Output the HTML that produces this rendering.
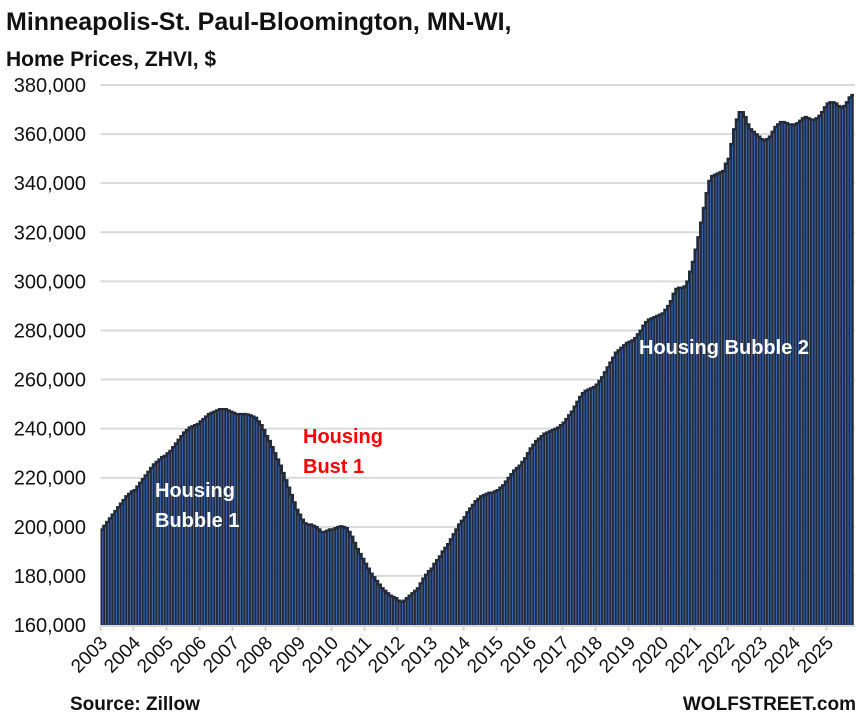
<!DOCTYPE html>
<html><head><meta charset="utf-8"><style>
body{margin:0;background:#fff;}
svg text{font-family:"Liberation Sans",Arial,sans-serif;}
</style></head><body>
<svg id="chart" width="863" height="716" xmlns="http://www.w3.org/2000/svg">
<text x="6" y="30" font-size="25" font-weight="bold" fill="#111">Minneapolis-St. Paul-Bloomington, MN-WI,</text>
<text x="6" y="66" font-size="21" font-weight="bold" fill="#111">Home Prices, ZHVI, $</text>
<g id="grid"></g>
<g id="ylabels"></g>
<g id="bars"></g>
<g id="xlabels"></g>
<g>
<text x="155" y="497" font-size="20" font-weight="bold" fill="#fff">Housing</text>
<text x="155" y="527" font-size="20" font-weight="bold" fill="#fff">Bubble 1</text>
<text x="303" y="443" font-size="20" font-weight="bold" fill="#ff0000">Housing</text>
<text x="303" y="473" font-size="20" font-weight="bold" fill="#ff0000">Bust 1</text>
<text x="639" y="354" font-size="20" font-weight="bold" fill="#fff">Housing Bubble 2</text>
</g>
<text x="70" y="710" font-size="19" font-weight="bold" fill="#111">Source: Zillow</text>
<text x="856" y="710" font-size="19" font-weight="bold" fill="#111" text-anchor="end">WOLFSTREET.com</text>
</svg>
<script>
const startYear = 2003;
const values = [
199,200.5,202,203.5,205,206.5,208,209.5,211,212.5,213.5,214.5,
215,216.5,218,219.5,221,222.5,224,225.5,226.5,227.5,228.5,229,
230,231,232.5,234,235.5,237,238.5,239.5,240.5,241,241.5,242,
243,244,245,246,246.5,247,247.5,248,248,248,247.5,247,
246.5,246,246,246,246,245.8,245.5,245,244.5,243,241.5,239.5,
237,235,232.5,230,227.5,225,222,219,216,213,210,207,
205,203,201.5,201,201,200.5,200,199,198,198,198.5,199,
199,199.5,200,200.3,200,199.5,198,196,193.5,191,189,187,
185,183,181,179.5,178,176.5,175,174,173,172,171.5,171,
170,169.5,170,171,172,173,174,175,177,179,180.5,182,
183,185,186.5,188,190,191.5,193,195,197,199,201,202.5,
204,206,207.5,209,210.5,211.5,212.5,213,213.5,214,214,214.5,
215,216,217,218.5,220,221.5,223,224,225,226.5,228,230,
232,233.5,235,236,237,238,238.5,239,239.5,240,240.5,241.5,
242.5,244,245.5,247,249,251,253,254.5,255.5,256,256.5,257,
258,259.5,261,263,265,267,269,271,272,273,274,275,
275.5,276,277,278.5,280,282,283.5,284.5,285,285.5,286,286.5,
287,288.5,290,292,295,297,297.5,297.5,298,300,304,308,
313,318,324,330,336,341,343,343.5,344,344.5,345,348,
350,356,362,366,369,369,367,364,362,361,360,359,
358,357.5,358,359,361,363,364,365,365,364.5,364,364,
364,364.5,365.5,366.5,367,366.5,366,366,366.5,367.5,369,371,
372.5,373,373,372.5,371.5,371,371.5,373,375,376
];
const yTicks = [160,180,200,220,240,260,280,300,320,340,360,380];
const xYears = [2003,2004,2005,2006,2007,2008,2009,2010,2011,2012,2013,2014,2015,2016,2017,2018,2019,2020,2021,2022,2023,2024,2025];

const NS="http://www.w3.org/2000/svg";
const x0=100.5, mw=2.75, yTop=85, yBot=625, vMin=160, vMax=380;
function yS(v){return yBot-(v-vMin)/(vMax-vMin)*(yBot-yTop);}
function xS(m){return x0+m*mw;}
function mk(t,a,p){const e=document.createElementNS(NS,t);for(const k in a)e.setAttribute(k,a[k]);p.appendChild(e);return e;}

const grid=document.getElementById('grid'), yl=document.getElementById('ylabels');
yTicks.forEach(v=>{
  const l=mk('line',{x1:x0,x2:855,y1:yS(v),y2:yS(v),stroke:'#d9d9d9','stroke-width':2},grid);
  
  
  const t=mk('text',{x:86,y:yS(v)+7,'font-size':20,'text-anchor':'end',fill:'#111'},yl);
  
  
  t.textContent=v.toLocaleString('en-US')+',000';
});
const barsG=document.getElementById('bars');
values.forEach((v,i)=>{
  const r=mk('rect',{x:xS(i),y:yS(v),width:mw,height:yBot-yS(v),fill:'#232b3b'},barsG);
  
  
  const s=mk('rect',{x:xS(i)+mw-0.9,y:yS(v)+1.5,width:0.9,height:yBot-yS(v)-1.5,fill:'#3d6bc0'},barsG);
  
  
});
const topLine=mk('polyline',{points:values.map((v,i)=>xS(i)+','+yS(v)+' '+(xS(i)+mw)+','+yS(v)).join(' '),fill:'none',stroke:'#232b3b','stroke-width':2},barsG);


const ax=mk('line',{x1:x0,x2:855,y1:yBot+1,y2:yBot+1,stroke:'#d9d9d9','stroke-width':2},barsG);


const xl=document.getElementById('xlabels');
xYears.forEach(yr=>{
  const x=xS((yr-startYear)*12);
  const tk=mk('line',{x1:x,x2:x,y1:yBot,y2:yBot+6,stroke:'#d9d9d9','stroke-width':2},xl);
  
  
  const t=mk('text',{x:x+8,y:yBot+19,'font-size':19,'text-anchor':'end',fill:'#111',transform:'rotate(-45 '+(x+8)+' '+(yBot+19)+')'},xl);
  
  
  t.textContent=yr;
});
</script>
</body></html>
